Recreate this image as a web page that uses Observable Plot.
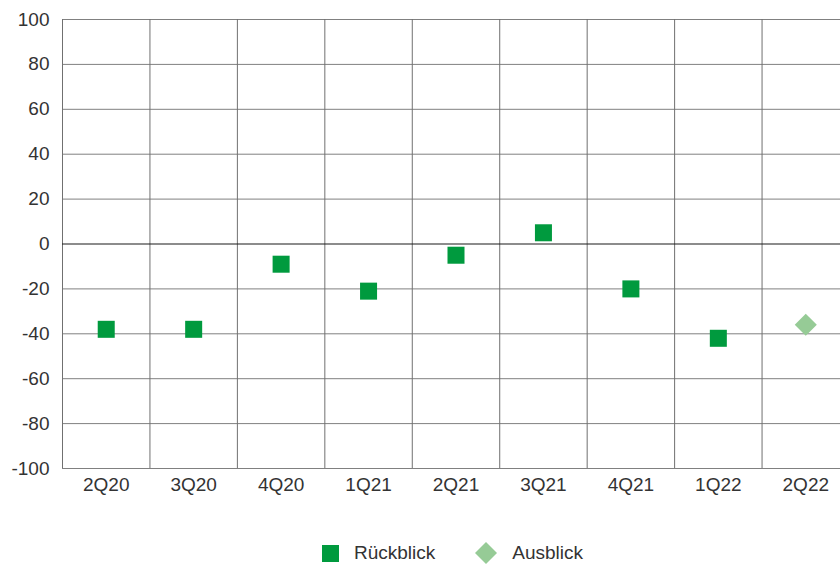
<!DOCTYPE html>
<html>
<head>
<meta charset="utf-8">
<script src="https://cdn.jsdelivr.net/npm/d3@7"></script>
<script src="https://cdn.jsdelivr.net/npm/@observablehq/plot@0.6"></script>
<style>
  html, body { margin: 0; padding: 0; background: #fff; }
  #chart svg { display: block; }
  .legend { height: 36px; display: flex; align-items: center; padding-left: 322px;
            font-family: "Liberation Sans", Arial, sans-serif; font-size: 19px; color: #333; }
  .legend .item { display: flex; align-items: center; margin-right: 40px; }
  .legend svg { margin-right: 15px; overflow: visible; }
</style>
</head>
<body>
<div id="chart"></div>
<script>
const categories = ["2Q20", "3Q20", "4Q20", "1Q21", "2Q21", "3Q21", "4Q21", "1Q22", "2Q22"];
const rueckblick = [-38, -38, -9, -21, -5, 5, -20, -42, null];
const ausblick = [null, null, null, null, null, null, null, null, -36];
const yTicks = [-100, -80, -60, -40, -20, 0, 20, 40, 60, 80, 100];
const seriesNames = ["Rückblick", "Ausblick"];
const colors = ["#009a3e", "#96cb96"];

const idx = categories.map((c, i) => i);
const backData = categories.map((c, i) => ({i, cat: c, v: rueckblick[i]})).filter(d => d.v != null);
const outData = categories.map((c, i) => ({i, cat: c, v: ausblick[i]})).filter(d => d.v != null);

const font = "Liberation Sans, Arial, sans-serif";

const chart = Plot.plot({
  width: 840,
  height: 535,
  marginTop: 19,
  marginBottom: 67,
  marginLeft: 62,
  marginRight: 0,
  style: {fontFamily: font, fontSize: "19px", color: "#333", background: "#fff"},
  x: {type: "linear", domain: [-0.5, categories.length - 0.5], range: [62, 849]},
  y: {domain: [-100, 100]},
  marks: [
    Plot.ruleY(yTicks.filter(t => t !== 0), {stroke: "#808080", strokeWidth: 1, strokeOpacity: 1}),
    Plot.ruleX(idx, {x: i => i - 0.5, stroke: "#707070", strokeWidth: 1, strokeOpacity: 1}),
    Plot.ruleY([0], {stroke: "#1a1a1a", strokeWidth: 1.2}),
    Plot.axisY({ticks: yTicks, tickFormat: d => String(d), tickSize: 0, tickPadding: 13, label: null, fontSize: 19}),
    Plot.axisX({ticks: idx, tickFormat: i => categories[i], tickSize: 0, tickPadding: 9, label: null, fontSize: 19}),
    Plot.dot(backData, {x: "i", y: "v", symbol: "square", r: 9.6, fill: colors[0], stroke: "none"}),
    Plot.dot(outData, {x: "i", y: "v", symbol: "square", rotate: 45, r: 8.8, fill: colors[1], stroke: "none"})
  ]
});
document.getElementById("chart").appendChild(chart);

const legend = document.createElement("div");
legend.className = "legend";
legend.innerHTML = `
  <div class="item"><svg width="17" height="17"><rect x="0" y="0" width="17" height="17" fill="${colors[0]}"/></svg><span>${seriesNames[0]}</span></div>
  <div class="item"><svg width="22" height="22"><path d="M11,0L22,11L11,22L0,11Z" fill="${colors[1]}"/></svg><span>${seriesNames[1]}</span></div>`;
document.body.appendChild(legend);
</script>
</body>
</html>
